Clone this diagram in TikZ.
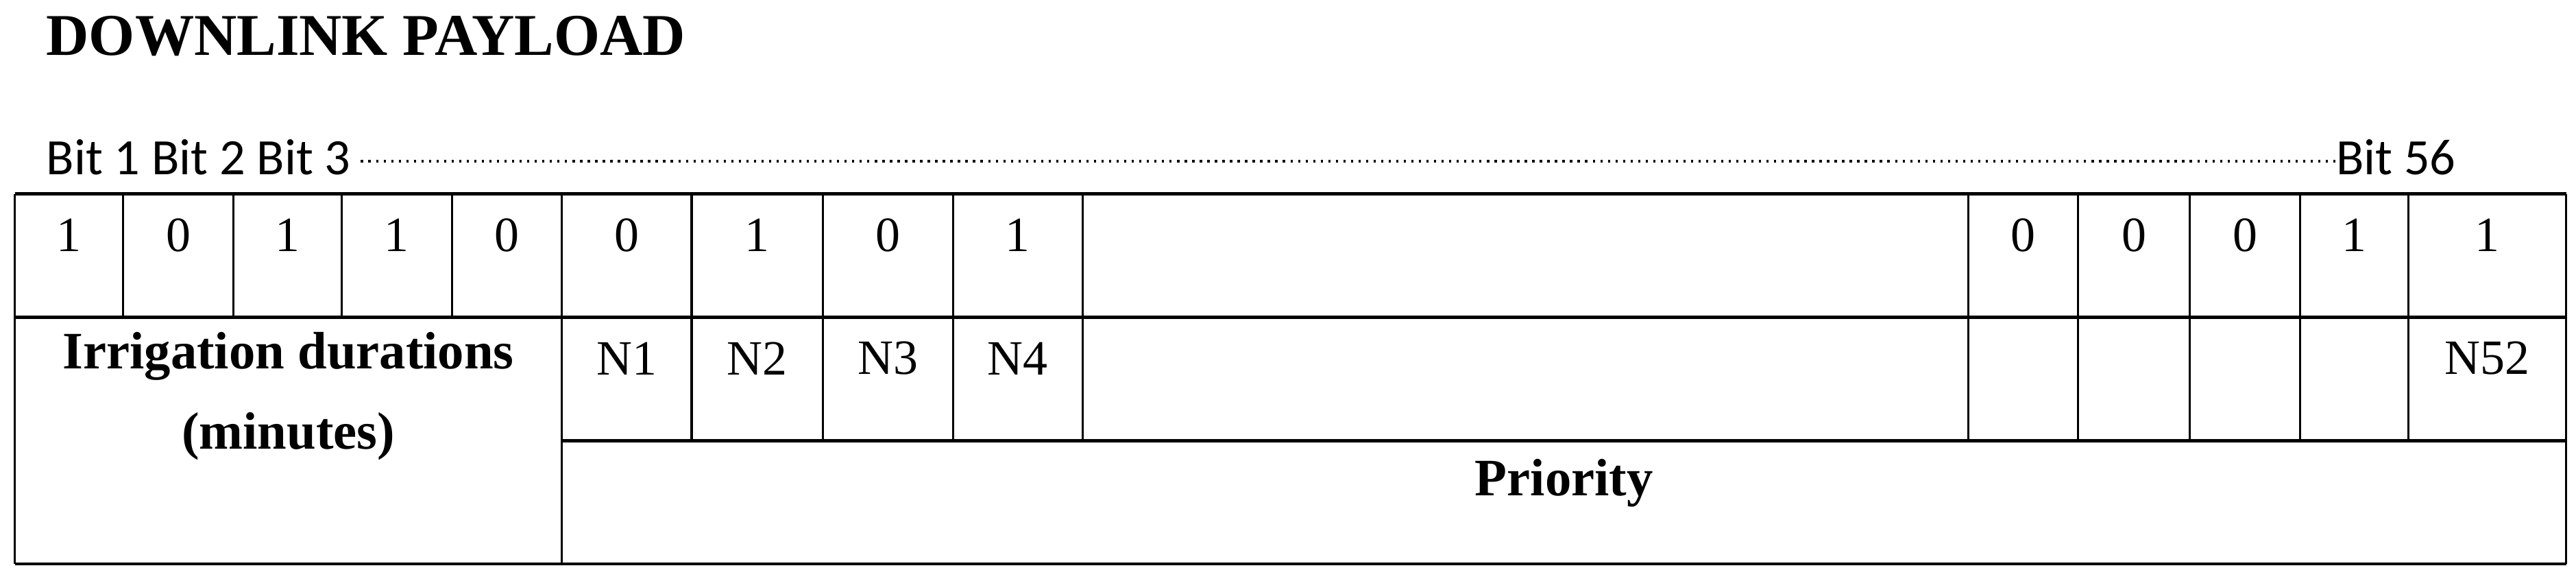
\documentclass[tikz,border=0pt]{standalone}
\usepackage{fontspec}
\setmainfont{Liberation Serif}
\newfontfamily\bitfont{Carlito}
\begin{document}
\begin{tikzpicture}[x=1pt,y=-1pt,
  thick line/.style={line width=2pt},
  thin line/.style={line width=1.3pt},
  cell/.style={font=\fontsize{30}{34}\selectfont, anchor=center, inner sep=0pt},
  bitlab/.style={font=\bitfont\fontsize{31}{34}\selectfont, anchor=base west, inner sep=0pt}]
\useasboundingbox (0,0) rectangle (1568,352);
\node[anchor=west, inner sep=0pt, font=\bfseries\fontsize{36}{40}\selectfont] (title) at (28,22) {DOWNLINK PAYLOAD};
\node[bitlab] (b1) at (28,106) {Bit 1 Bit 2 Bit 3};
\node[bitlab, anchor=base east] (b56) at (1495,106) {Bit 56};
\draw[line width=1.6pt, dash pattern=on 1.4pt off 3.2pt] (b1.east |- 0,98) ++(6,0) coordinate (d1) -- (b56.west |- 0,98) coordinate (d2);
% frame
\draw[thick line] (9,118) -- (1562,118);
\draw[thick line] (9,193) -- (1562,193);
\draw[thick line] (342,268) -- (1562,268);
\draw[thick line] (9,343) -- (1562,343);
\draw[thin line] (9,118) -- (9,343);
\draw[thin line] (1562,118) -- (1562,343);
\draw[thin line] (342,118) -- (342,343);
\foreach \x in {75,142,208,275} \draw[thin line] (\x,118) -- (\x,193);
\foreach \x in {421,501,580,659,1198,1265,1333,1400,1466} \draw[thin line] (\x,118) -- (\x,268);
% row 1 values
\foreach \x/\v [count=\i] in {42/1,108.5/0,175/1,241.5/1,308.5/0,381.5/0,461/1,540.5/0,619.5/1,1231.5/0,1299/0,1366.5/0,1433/1,1514/1}
  \node[cell] (v\i) at (\x,143) {\v};
% row 2
\node[cell] (n1) at (381.5,218) {N1};
\node[cell] (n2) at (461,218) {N2};
\node[cell] (n3) at (540.5,218) {N3};
\node[cell] (n4) at (619.5,218) {N4};
\node[cell] (n52) at (1514,218) {N52};
\node[cell, font=\bfseries\fontsize{32}{49}\selectfont, align=center] (irr) at (175.5,241) {Irrigation durations\\(minutes)};
\node[cell, font=\bfseries\fontsize{32}{34}\selectfont] (prio) at (952,294) {Priority};
\end{tikzpicture}
\end{document}
